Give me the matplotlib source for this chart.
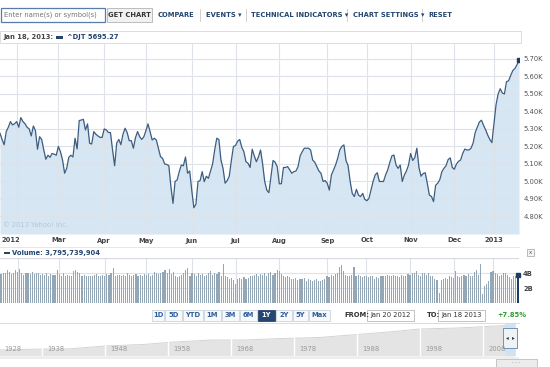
import matplotlib
matplotlib.use("Agg")
import matplotlib.pyplot as plt
from matplotlib.patches import Rectangle
import numpy as np

# ---------------- data ----------------
close_k = [
    5.275, 5.24, 5.21, 5.285, 5.31, 5.342, 5.323, 5.33, 5.342, 5.31,
    5.365, 5.342, 5.33, 5.31, 5.30, 5.26, 5.317, 5.29, 5.184, 5.256,
    5.24, 5.18, 5.127, 5.15, 5.138, 5.16, 5.156, 5.15, 5.20, 5.17,
    5.123, 5.047, 5.075, 5.138, 5.15, 5.14, 5.247, 5.186, 5.348, 5.351,
    5.355, 5.294, 5.329, 5.218, 5.214, 5.285, 5.27, 5.26, 5.252, 5.252,
    5.30, 5.295, 5.28, 5.279, 5.18, 5.09, 5.22, 5.24, 5.21, 5.27,
    5.304, 5.28, 5.233, 5.233, 5.19, 5.25, 5.285, 5.256, 5.24, 5.255,
    5.29, 5.329, 5.285, 5.237, 5.247, 5.237, 5.19, 5.142, 5.132, 5.10,
    5.097, 5.09, 4.97, 4.875, 5.00, 5.009, 5.056, 5.094, 5.09, 5.14,
    5.047, 5.06, 4.95, 4.85, 4.87, 5.00, 5.005, 5.056, 4.999, 5.03,
    5.018, 5.06, 5.10, 5.18, 5.247, 5.24, 5.123, 5.075, 4.99, 5.005,
    5.03, 5.12, 5.20, 5.205, 5.23, 5.24, 5.195, 5.17, 5.113, 5.104,
    5.08, 5.184, 5.146, 5.113, 5.14, 5.18, 5.10, 5.00, 4.951, 4.936,
    5.03, 5.12, 5.11, 5.085, 4.987, 4.987, 5.08, 5.08, 5.085, 5.066,
    5.047, 5.056, 5.06, 5.085, 5.146, 5.17, 5.19, 5.19, 5.19, 5.18,
    5.123, 5.11, 5.085, 5.06, 5.047, 5.00, 5.005, 4.99, 4.951, 5.037,
    5.066, 5.094, 5.132, 5.18, 5.20, 5.209, 5.12, 5.09, 5.00, 4.932,
    4.914, 4.955, 4.922, 4.914, 4.932, 4.898, 4.89, 4.903, 4.951, 5.00,
    5.037, 5.05, 5.00, 5.00, 5.00, 5.037, 5.066, 5.108, 5.146, 5.151,
    5.094, 5.075, 5.094, 5.00, 5.037, 5.06, 5.094, 5.16, 5.12, 5.136,
    5.19, 5.08, 5.03, 5.045, 5.05, 4.99, 4.922, 4.915, 4.885, 4.978,
    4.99, 5.01, 5.056, 5.075, 5.09, 5.125, 5.135, 5.08, 5.07, 5.10,
    5.115, 5.123, 5.16, 5.185, 5.18, 5.18, 5.19, 5.22, 5.28, 5.31,
    5.34, 5.35, 5.32, 5.295, 5.265, 5.24, 5.222, 5.33, 5.44, 5.50,
    5.53, 5.505, 5.50, 5.57, 5.575, 5.605, 5.633, 5.645, 5.666, 5.695,
]
volume_b = [
    3.9, 4.1, 4.0, 4.5, 4.2, 3.9, 4.1, 4.4, 4.2, 4.6,
    4.0, 3.8, 4.1, 4.0, 3.9, 4.2, 3.9, 4.0, 4.1, 3.8,
    3.9, 3.8, 4.0, 3.7, 3.9, 3.8, 3.8, 4.5, 3.9, 3.7,
    4.1, 3.6, 3.8, 3.7, 3.6, 4.3, 4.4, 4.2, 4.0, 3.7,
    3.8, 3.6, 3.7, 3.6, 3.7, 3.8, 3.9, 3.7, 3.6, 3.8,
    3.7, 3.9, 3.8, 4.0, 4.7, 3.6, 3.8, 3.8, 3.7, 3.8,
    3.7, 4.1, 3.8, 3.6, 3.8, 3.9, 3.7, 3.8, 3.6, 3.9,
    3.8, 3.9, 3.7, 3.8, 4.2, 4.1, 3.9, 4.0, 4.2, 4.4,
    4.1, 4.6, 3.9, 4.2, 3.7, 3.5, 3.6, 3.8, 4.1, 4.4,
    4.7, 3.6, 4.0, 3.9, 3.7, 4.1, 3.8, 3.9, 3.7, 3.8,
    4.0, 4.3, 3.8, 4.1, 3.9, 4.2, 3.7, 5.2, 3.6, 3.5,
    3.3, 3.4, 3.1, 2.6, 3.3, 3.4, 3.2, 3.5, 3.3, 3.4,
    3.7, 3.6, 3.8, 3.9, 3.7, 3.9, 3.8, 4.0, 3.7, 4.0,
    4.2, 3.8, 4.1, 4.4, 4.3, 3.9, 3.7, 3.5, 3.6, 3.5,
    3.3, 3.2, 3.4, 3.1, 3.3, 3.2, 3.4, 3.0, 3.2, 3.1,
    3.0, 3.1, 3.2, 3.0, 3.0, 3.1, 3.3, 3.7, 3.5, 3.8,
    3.6, 3.9, 4.0, 4.9, 5.1, 4.3, 3.8, 3.7, 3.6, 3.8,
    4.9, 3.6, 3.8, 3.7, 3.5, 3.6, 3.7, 3.5, 3.6, 3.7,
    3.3, 3.5, 3.4, 3.6, 3.7, 3.6, 3.8, 3.7, 3.6, 3.8,
    3.6, 3.7, 3.5, 3.8, 3.7, 3.6, 3.9, 3.8, 4.0, 4.1,
    4.3, 3.8, 3.6, 4.0, 4.1, 3.8, 4.0, 3.7, 3.6, 3.3,
    3.1, 1.4, 3.1, 3.3, 3.4, 3.3, 3.6, 3.5, 3.4, 4.3,
    3.6, 3.5, 3.7, 3.8, 3.6, 3.9, 3.7, 3.6, 4.2, 4.4,
    3.8, 5.2, 1.3, 2.3, 2.6, 3.0, 4.2, 4.3, 4.0, 3.9,
    3.7, 3.8, 4.0, 4.1, 3.8, 3.5, 3.3, 3.6, 3.7, 3.8,
]
# trading-day index of each month's first session (Jan 20 2012 = day 0)
month_days = [8, 28, 50, 70, 92, 113, 134, 157, 176, 197, 218, 237]
month_labels = ["2012", "Mar", "Apr", "May", "Jun", "Jul", "Aug", "Sep",
                "Oct", "Nov", "Dec", "2013"]
price_ticks = [4.80, 4.90, 5.00, 5.10, 5.20, 5.30, 5.40, 5.50, 5.60, 5.70]
volume_ticks = [2, 4]
volume_tick_labels = ["2B", "4B"]

range_buttons = ["1D", "5D", "YTD", "1M", "3M", "6M", "1Y", "2Y", "5Y", "Max"]
nav_years = [1931, 1938, 1942, 1948, 1954, 1959, 1965, 1970, 1976, 1982,
             1987, 1993, 1998, 2004, 2010, 2013]
nav_level = [6, 7, 7, 10, 11.5, 14, 16, 16, 17.5, 18.5, 21, 24, 27, 28, 30, 31]
nav_label_years = [1928, 1938, 1948, 1958, 1968, 1978, 1988, 1998, 2008]

# ---------------- figure ----------------
W, H = 550, 367
fig = plt.figure(figsize=(5.5, 3.67), dpi=100)
fig.patch.set_facecolor("white")


def ax_at(x0, y0, x1, y1, **kw):
    return fig.add_axes([x0 / W, 1 - y1 / H, (x1 - x0) / W, (y1 - y0) / H], **kw)


# overlay axis in pixel coordinates for UI chrome
ov = fig.add_axes([0, 0, 1, 1], zorder=20)
ov.set_xlim(0, W)
ov.set_ylim(H, 0)
ov.axis("off")
ov.patch.set_alpha(0)

NAVY = "#23456f"
FS = 4.9

# ----- toolbar -----
ov.add_patch(Rectangle((1, 8), 104, 14, fc="white", ec="#5a7ba5", lw=0.9))
ov.text(4, 15.2, "Enter name(s) or symbol(s)", fontsize=FS, color="#777777",
        va="center", ha="left")
ov.add_patch(Rectangle((107, 8), 45, 14, fc="#f1f1f1", ec="#bdbdbd", lw=0.7))
ov.text(129.5, 15.2, "GET CHART", fontsize=FS, color="#333333", weight="bold",
        va="center", ha="center")
for x, s in [(158, "COMPARE"), (206, "EVENTS \u25be"),
             (251, "TECHNICAL INDICATORS \u25be"),
             (353, "CHART SETTINGS \u25be"), (428, "RESET")]:
    ov.text(x, 15.2, s, fontsize=FS, color=NAVY, weight="bold",
            va="center", ha="left")
for x in [200, 246, 347, 422]:
    ov.plot([x, x], [9, 21], color="#d0d0d0", lw=0.7)

# ----- header box -----
ov.add_patch(Rectangle((0, 31), 521, 12, fc="white", ec="#dcdcdc", lw=0.7))
ov.text(3, 37.2, "Jan 18, 2013:", fontsize=FS, color="#444444", weight="bold",
        va="center", ha="left")
ov.add_patch(Rectangle((56, 36), 7, 2.6, fc=NAVY, ec="none"))
ov.text(67, 37.2, "^DJT 5695.27", fontsize=FS, color=NAVY, weight="bold",
        va="center", ha="left")

# ----- main price chart -----
x = np.arange(len(close_k))
ax = ax_at(0, 43, 519, 234)
ax.set_xlim(0, len(close_k) - 1)
ax.set_ylim(4.70, 5.791)
ax.fill_between(x, close_k, 4.70, color="#d6e6f2", lw=0, zorder=1)
ax.plot(x, close_k, color="#3c5d80", lw=0.9, zorder=3)
ax.plot(x[-1], close_k[-1], "s", ms=2.4, color="#1e3d66", zorder=4)
for d in month_days:
    ax.axvline(d, color="#dde3e8", lw=0.8, zorder=2)
for v in price_ticks + [5.80]:
    ax.axhline(v, color="#dde3e8", lw=0.8, zorder=2)
ax.set_yticks(price_ticks)
ax.set_yticklabels([f"{v:.2f}K" for v in price_ticks])
ax.yaxis.tick_right()
ax.tick_params(axis="y", length=0, pad=3, labelsize=FS, labelcolor="#555555")
ax.set_xticks([])
for s in ax.spines.values():
    s.set_visible(False)
ax.text(0.006, 0.03, "\u00a9 2013 Yahoo! Inc.", transform=ax.transAxes,
        fontsize=FS, color="#b5c7d6", ha="left", va="bottom", zorder=5)

# month labels
for d, lab in zip(month_days, month_labels):
    xp = d * 519 / (len(close_k) - 1)
    if lab == "2012":
        ov.text(2, 240.5, lab, fontsize=FS, color="#444444", weight="bold",
                ha="left", va="center")
    else:
        ov.text(xp, 240.5, lab, fontsize=FS, color="#444444", weight="bold",
                ha="center", va="center")
ov.plot([0, 519], [247, 247], color="#e2e2e2", lw=0.6)

# ----- volume -----
ov.add_patch(Rectangle((4, 252), 6, 2.4, fc=NAVY, ec="none"))
ov.text(12, 253.2, "Volume: 3,795,739,904", fontsize=FS, color=NAVY,
        weight="bold", ha="left", va="center")
ov.add_patch(Rectangle((527, 249), 7, 7, fc="#f4f4f4", ec="#b0b0b0", lw=0.6))
ov.text(530.5, 252.5, "x", fontsize=4, color="#555555", ha="center",
        va="center")

axv = ax_at(0, 258, 519, 303.3)
axv.set_xlim(-0.5, len(volume_b) - 0.5)
axv.set_ylim(0, 6.04)
colors = ["#93a7b6"] * (len(volume_b) - 1) + ["#1e3d66"]
axv.bar(x, volume_b, width=0.55, color=colors, lw=0, zorder=3)
for d in month_days:
    axv.axvline(d, color="#dde3e8", lw=0.8, zorder=1)
for v in volume_ticks:
    axv.axhline(v, color="#dde3e8", lw=0.8, zorder=1)
axv.axhline(6.04, color="#d5dbe0", lw=0.9, zorder=1)
axv.set_yticks(volume_ticks)
axv.set_yticklabels(volume_tick_labels)
axv.yaxis.tick_right()
axv.tick_params(axis="y", length=0, pad=3, labelsize=FS, labelcolor="#444444")
for t in axv.get_yticklabels():
    t.set_fontweight("bold")
axv.set_xticks([])
for s in axv.spines.values():
    s.set_visible(False)
axv.plot(x[-1], volume_b[-1], "s", ms=2.2, color="#1e3d66", zorder=4,
         clip_on=False)

# ----- range buttons -----
edges = [152, 165, 183, 204, 222, 240, 258, 276, 293, 309, 331]
for i, lab in enumerate(range_buttons):
    x0, x1 = edges[i], edges[i + 1]
    sel = lab == "1Y"
    ov.add_patch(Rectangle((x0, 309.5), x1 - x0 - 1, 11,
                           fc=NAVY if sel else "#f7f9fb",
                           ec=NAVY if sel else "#c9d3dd", lw=0.6))
    ov.text((x0 + x1 - 1) / 2, 315.2, lab, fontsize=FS,
            color="white" if sel else "#2f5f9a", weight="bold",
            ha="center", va="center")
ov.text(344, 315.2, "FROM:", fontsize=FS, color="#333333", weight="bold",
        ha="left", va="center")
ov.add_patch(Rectangle((367, 309.5), 47, 11, fc="white", ec="#b9b9b9", lw=0.6))
ov.text(390.5, 315.2, "Jan 20 2012", fontsize=FS, color="#333333",
        ha="center", va="center")
ov.text(427, 315.2, "TO:", fontsize=FS, color="#333333", weight="bold",
        ha="left", va="center")
ov.add_patch(Rectangle((438, 309.5), 47, 11, fc="white", ec="#b9b9b9", lw=0.6))
ov.text(461.5, 315.2, "Jan 18 2013", fontsize=FS, color="#333333",
        ha="center", va="center")
ov.text(497, 315.2, "+7.85%", fontsize=FS, color="#2e9b2e", weight="bold",
        ha="left", va="center")

# ----- navigator -----
axn = ax_at(0, 323, 519, 356)
axn.set_xlim(1931.3, 2013.7)
axn.set_ylim(0, 33)
axn.fill_between(nav_years, nav_level, 0, color="#e4e4e4", lw=0)
axn.plot(nav_years, nav_level, color="#d3d3d3", lw=0.7)
for yr in nav_label_years[1:]:
    axn.axvline(yr, color="white", lw=1.0)
axn.set_xticks([])
axn.set_yticks([])
for s in axn.spines.values():
    s.set_visible(False)
ov.plot([0, 519], [323, 323], color="#d6d6d6", lw=0.6)
for yr in nav_label_years:
    if yr == 1928:
        xp = 4
    else:
        xp = (yr - 1931.3) / (2013.7 - 1931.3) * 519 + 5
    ov.text(xp, 349, str(yr), fontsize=FS, color="#9a9a9a", ha="left",
            va="center")
# selection and handle
ov.add_patch(Rectangle((505, 323), 11, 33, fc="#cfe2f3", ec="none", alpha=0.8))
ov.add_patch(Rectangle((503, 328), 14, 20, fc="#eef3f8", ec="#6f93b8", lw=0.7))
ov.text(507, 338, "\u25c2", fontsize=4, color="#333333", ha="center", va="center")
ov.text(513, 338, "\u25b8", fontsize=4, color="#333333", ha="center", va="center")
# shadow + scrollbar
ov.add_patch(Rectangle((0, 356.5), 519, 2.5, fc="#eeeeee", ec="none"))
ov.add_patch(Rectangle((496, 359), 41, 8, fc="#ececec", ec="#bdbdbd", lw=0.6))
ov.text(516.5, 362.5, "- - -", fontsize=3.5, color="#999999", ha="center",
        va="center")

fig.savefig("out.png", dpi=100)
